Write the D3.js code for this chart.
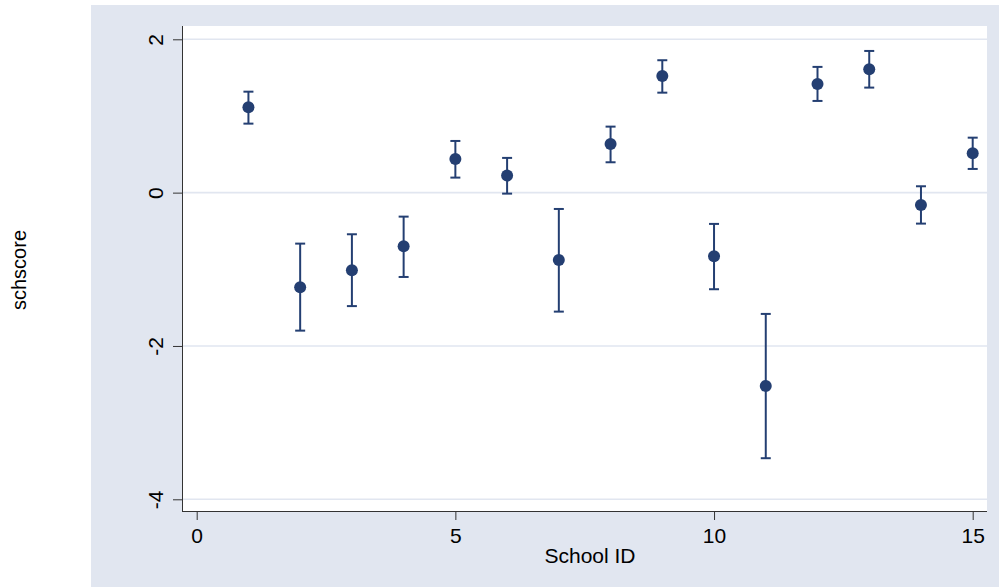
<!DOCTYPE html>
<html>
<head>
<meta charset="utf-8">
<script src="https://cdn.jsdelivr.net/npm/d3@7"></script>
<style>
  body { margin: 0; background: #fff; }
  svg { display: block; font-family: "Liberation Sans", Arial, sans-serif; }
</style>
</head>
<body>
<svg id="chart" width="999" height="587"></svg>
<script>
// school ids and estimated scores with upper / lower bounds
var schools = [1, 2, 3, 4, 5, 6, 7, 8, 9, 10, 11, 12, 13, 14, 15];
var scores  = [1.114, -1.234, -1.012, -0.699, 0.44, 0.222, -0.878, 0.635, 1.522, -0.83, -2.521, 1.418, 1.609, -0.16, 0.514];
var upper   = [1.317, -0.665, -0.543, -0.313, 0.674, 0.453, -0.213, 0.861, 1.727, -0.408, -1.582, 1.64, 1.848, 0.083, 0.717];
var lower   = [0.9, -1.8, -1.48, -1.1, 0.196, -0.013, -1.552, 0.396, 1.304, -1.26, -3.464, 1.196, 1.37, -0.404, 0.309];
var xTicks  = [0, 5, 10, 15];
var yTicks  = [-4, -2, 0, 2];

var svg = d3.select("#chart");
var navy = "#243f72";
var plain = function(d) { return String(d); };  // ascii hyphen for negatives

// outer (graph region) background
svg.append("rect")
    .attr("x", 91).attr("y", 5)
    .attr("width", 908).attr("height", 582)
    .attr("fill", "#e1e6f0");

// plot region
svg.append("rect")
    .attr("x", 182).attr("y", 26)
    .attr("width", 805).attr("height", 485)
    .attr("fill", "#ffffff");

var x = d3.scaleLinear().domain([0, 15]).range([196.7, 972.7]);
var y = d3.scaleLinear().domain([-4, 2]).range([499.3, 39.3]);

// grid lines
svg.append("g")
  .selectAll("line")
  .data(yTicks)
  .enter().append("line")
    .attr("x1", 182).attr("x2", 987)
    .attr("y1", function(d) { return y(d); })
    .attr("y2", function(d) { return y(d); })
    .attr("stroke", "#e1e6f0")
    .attr("stroke-width", 1.6);

// y axis
var yAxis = svg.append("g")
    .attr("transform", "translate(182,0)")
    .call(d3.axisLeft(y).tickValues(yTicks).tickSize(9).tickPadding(0).tickFormat(plain));
yAxis.select(".domain").attr("d", "M0.5,26V511").attr("stroke", "#333");
yAxis.selectAll(".tick line").attr("stroke", "#333");
yAxis.selectAll(".tick text")
    .attr("x", null).attr("dy", null)
    .attr("transform", "translate(-19,0) rotate(-90)")
    .attr("text-anchor", "middle")
    .attr("fill", "#000")
    .style("font-size", "21px");

// x axis
var xAxis = svg.append("g")
    .attr("transform", "translate(0,511)")
    .call(d3.axisBottom(x).tickValues(xTicks).tickSize(9).tickPadding(0).tickFormat(plain));
xAxis.select(".domain").attr("d", "M182,0.5H987").attr("stroke", "#333");
xAxis.selectAll(".tick line").attr("stroke", "#333");
xAxis.selectAll(".tick text")
    .attr("y", 32).attr("dy", null)
    .attr("fill", "#000")
    .style("font-size", "21px");

// axis titles
svg.append("text")
    .attr("x", 590).attr("y", 563)
    .attr("text-anchor", "middle")
    .style("font-size", "21px")
    .text("School ID");

svg.append("text")
    .attr("transform", "translate(26,270) rotate(-90)")
    .attr("text-anchor", "middle")
    .style("font-size", "20px")
    .text("schscore");

// error bars
var bars = svg.append("g")
  .selectAll("g")
  .data(schools)
  .enter().append("g");

bars.append("line")
    .attr("x1", function(d) { return x(d); })
    .attr("x2", function(d) { return x(d); })
    .attr("y1", function(d, i) { return y(upper[i]); })
    .attr("y2", function(d, i) { return y(lower[i]); })
    .attr("stroke", navy).attr("stroke-width", 2);

bars.append("line")
    .attr("x1", function(d) { return x(d) - 5; })
    .attr("x2", function(d) { return x(d) + 5; })
    .attr("y1", function(d, i) { return y(upper[i]); })
    .attr("y2", function(d, i) { return y(upper[i]); })
    .attr("stroke", navy).attr("stroke-width", 2);

bars.append("line")
    .attr("x1", function(d) { return x(d) - 5; })
    .attr("x2", function(d) { return x(d) + 5; })
    .attr("y1", function(d, i) { return y(lower[i]); })
    .attr("y2", function(d, i) { return y(lower[i]); })
    .attr("stroke", navy).attr("stroke-width", 2);

bars.append("circle")
    .attr("cx", function(d) { return x(d); })
    .attr("cy", function(d, i) { return y(scores[i]); })
    .attr("r", 6)
    .attr("fill", navy);
</script>
</body>
</html>
